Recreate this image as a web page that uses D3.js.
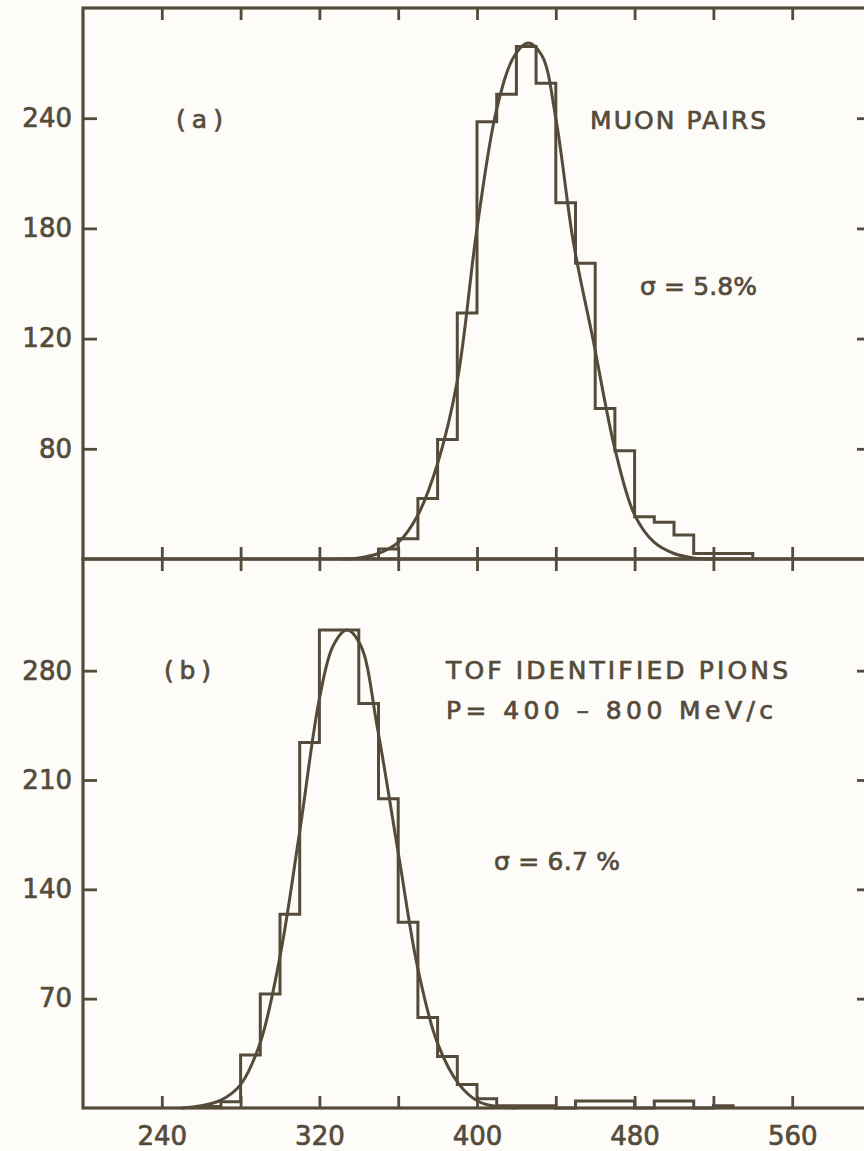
<!DOCTYPE html>
<html>
<head>
<meta charset="utf-8">
<script src="https://cdn.jsdelivr.net/npm/d3@7/dist/d3.min.js"></script>
<style>
    body { margin: 0; background: #fdfcf9; }
    svg { display: block; }
    text { font-family: "DejaVu Sans", sans-serif; fill: #554b3b; stroke: #554b3b; stroke-width: 0.7px; }
</style>
</head>
<body>
<svg id="chart" width="864" height="1151"></svg>
<script>
// Histogram bins are 10 units wide, given by their left edge
var binWidth = 10;

// (a) muon pairs
var muonBinStarts = [350, 360, 370, 380, 390, 400, 410, 420, 430, 440, 450, 460, 470, 480, 490, 500, 510, 520, 530];
var muonCounts    = [5.5, 11, 33, 65, 134, 238, 253, 279, 259, 194, 161, 82, 59, 23, 20, 13, 3, 3, 3];
var muonFitX = [330, 340, 350, 360, 370, 380, 390, 400, 410, 419, 426, 433, 440, 449, 459, 470, 480, 490, 500, 510, 520];
var muonFitY = [0, 0.6, 3, 9, 24, 52, 97, 180, 245, 274, 281, 274, 240, 172, 119, 60, 24, 9, 3, 0.6, 0];
var muonTicks = [60, 120, 180, 240];
var muonTickLabels = ["80", "120", "180", "240"];

// (b) TOF identified pions
var pionBinStarts = [260, 270, 280, 290, 300, 310, 320, 330, 340, 350, 360, 370, 380, 390, 400, 410, 420, 430, 440, 450, 460, 470, 480, 490, 500, 510, 520];
var pionCounts    = [1, 4, 34, 73, 124, 234, 306, 306, 259, 198, 119, 58, 33, 15, 6, 1.5, 1.5, 1.5, 0, 4.5, 4.5, 4.5, 0, 4.5, 4.5, 0, 1.5];
var pionFitX = [250, 260, 270, 280, 290, 300, 310, 320, 327, 334, 341, 349.5, 360.6, 369.7, 379.8, 391, 401, 410, 420];
var pionFitY = [0, 1.5, 5, 15, 42, 97, 177, 262, 296, 306, 296, 243, 159, 91, 42, 15, 4, 1, 0];
var pionTicks = [70, 140, 210, 280];
var pionTickLabels = ["70", "140", "210", "280"];

// Shared x axis
var xTicks = [240, 280, 320, 360, 400, 440, 480, 520, 560];
var xTickLabels = [240, 320, 400, 480, 560];

var ink = "#554b3b";
var svg = d3.select("#chart");

var x = d3.scaleLinear().domain([200, 600]).range([83, 871]);

var Panel = function(opts) {
    var self = {};
    var g = svg.append("g");
    var y = d3.scaleLinear().domain(opts.yDomain).range([opts.bottom, opts.top]);

    // Frame
    g.append("rect")
        .attr("x", x(200)).attr("y", opts.top)
        .attr("width", x(600) - x(200)).attr("height", opts.bottom - opts.top)
        .attr("fill", "none").attr("stroke", ink).attr("stroke-width", 3.2);

    // Ticks
    var axes = [
        { a: d3.axisLeft(y).tickValues(opts.yTicks).tickSize(-14).tickPadding(11)
                .tickFormat(function(d, i) { return opts.yLabels[i]; }), tx: x(200), ty: 0 },
        { a: d3.axisRight(y).tickValues(opts.yTicks).tickSize(-14).tickFormat(""), tx: x(600), ty: 0 },
        { a: d3.axisTop(x).tickValues(xTicks).tickSize(-12).tickFormat(""), tx: 0, ty: opts.top },
        { a: d3.axisBottom(x).tickValues(xTicks).tickSize(-12).tickPadding(19)
                .tickFormat(function(d) { return opts.xLabels && xTickLabels.indexOf(d) >= 0 ? d : ""; }), tx: 0, ty: opts.bottom }
    ];
    axes.forEach(function(ax) {
        var ag = g.append("g")
            .attr("transform", "translate(" + ax.tx + "," + ax.ty + ")")
            .call(ax.a.tickSizeOuter(0));
        ag.select(".domain").remove();
        ag.selectAll("line").attr("stroke", ink).attr("stroke-width", 2.8);
        ag.selectAll("text")
            .attr("fill", ink)
            .style("font-size", "26px")
            .style("font-family", "'DejaVu Sans', sans-serif");
    });

    // Histogram outline
    var pts = [[opts.binStarts[0], 0]];
    opts.binStarts.forEach(function(b, i) {
        pts.push([b, opts.counts[i]]);
        pts.push([b + binWidth, opts.counts[i]]);
    });
    pts.push([opts.binStarts[opts.binStarts.length - 1] + binWidth, 0]);

    var line = d3.line()
        .x(function(d) { return x(d[0]); })
        .y(function(d) { return y(d[1]); });

    g.append("path")
        .attr("d", line(pts))
        .attr("fill", "none").attr("stroke", ink)
        .attr("stroke-width", 3).attr("stroke-linejoin", "miter");

    // Fitted curve
    var fit = opts.fitX.map(function(v, i) { return [v, opts.fitY[i]]; });
    g.append("path")
        .attr("d", line.curve(d3.curveCatmullRom)(fit))
        .attr("fill", "none").attr("stroke", ink).attr("stroke-width", 3);

    // Annotations
    opts.notes.forEach(function(n) {
        g.append("text")
            .attr("x", n.x).attr("y", n.y)
            .attr("textLength", n.w).attr("lengthAdjust", "spacing")
            .style("font-size", "25px")
            .text(n.t);
    });

    return self;
};

Panel({
    top: 8, bottom: 559, yDomain: [0, 300],
    yTicks: muonTicks, yLabels: muonTickLabels, xLabels: false,
    binStarts: muonBinStarts, counts: muonCounts,
    fitX: muonFitX, fitY: muonFitY,
    notes: [
        { t: "(a)", x: 176, y: 128, w: 47 },
        { t: "MUON PAIRS", x: 590, y: 129, w: 176 },
        { t: "\u03c3 = 5.8%", x: 640, y: 295, w: 117 }
    ]
});

Panel({
    top: 559, bottom: 1108, yDomain: [0, 351.5],
    yTicks: pionTicks, yLabels: pionTickLabels, xLabels: true,
    binStarts: pionBinStarts, counts: pionCounts,
    fitX: pionFitX, fitY: pionFitY,
    notes: [
        { t: "(b)", x: 164, y: 679, w: 47 },
        { t: "TOF IDENTIFIED PIONS", x: 446, y: 679, w: 342 },
        { t: "P= 400 \u2013 800 MeV/c", x: 446, y: 719, w: 327 },
        { t: "\u03c3 = 6.7 %", x: 494, y: 870, w: 126 }
    ]
});
</script>
</body>
</html>
